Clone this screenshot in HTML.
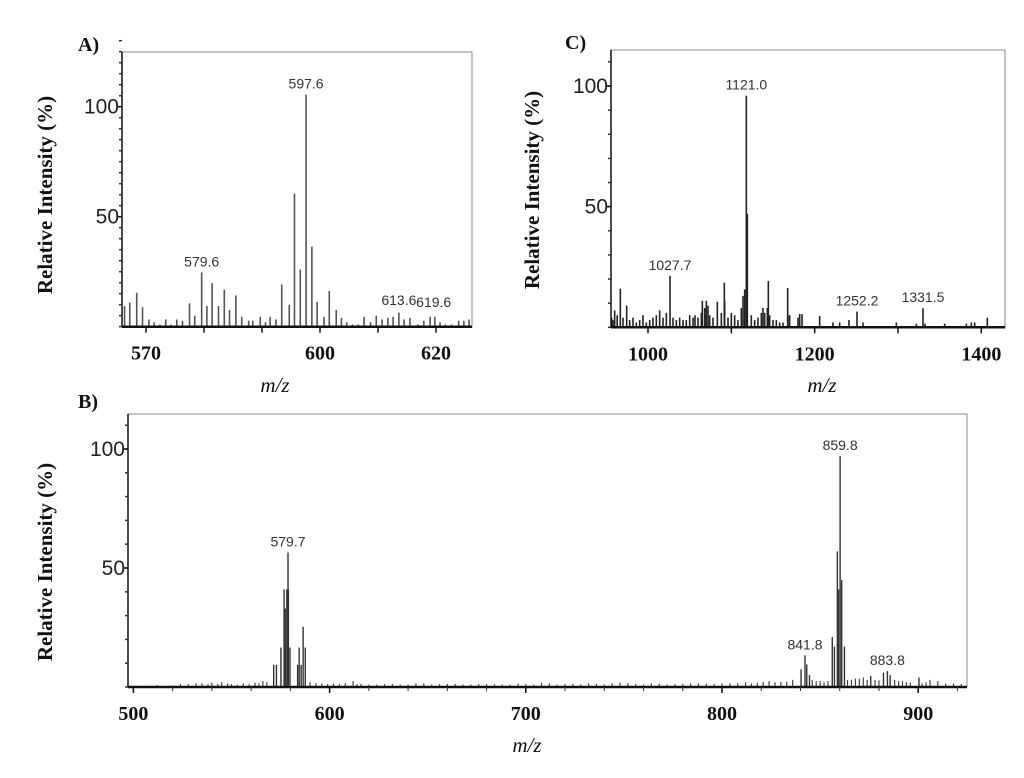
<!DOCTYPE html>
<html><head><meta charset="utf-8"><style>
body{margin:0;background:#fff;}
svg{display:block;}
.tk{font-family:"Liberation Sans",sans-serif;font-size:21px;fill:#222;}
.xt{font-family:"Liberation Serif",serif;font-weight:bold;font-size:20px;fill:#111;}
.yt{font-family:"Liberation Serif",serif;font-weight:bold;font-size:21px;fill:#111;}
.pl{font-family:"Liberation Serif",serif;font-weight:bold;font-size:20px;fill:#111;}
.mz{font-family:"Liberation Serif",serif;font-style:italic;font-size:21px;fill:#111;}
.pk{font-family:"Liberation Sans",sans-serif;font-size:14px;fill:#333;}
</style></head><body>
<svg id="fig" width="1024" height="778" viewBox="0 0 1024 778">
<text class="pl" x="78" y="51">A)</text>
<text class="pl" x="565" y="49">C)</text>
<text class="pl" x="78" y="408">B)</text>
<text class="yt" transform="translate(52,195) rotate(-90)" text-anchor="middle">Relative Intensity (%)</text>
<text class="yt" transform="translate(539,190) rotate(-90)" text-anchor="middle">Relative Intensity (%)</text>
<text class="yt" transform="translate(52,562) rotate(-90)" text-anchor="middle">Relative Intensity (%)</text>
<text class="mz" x="275" y="392" text-anchor="middle">m/z</text>
<text class="mz" x="822" y="392" text-anchor="middle">m/z</text>
<text class="mz" x="527" y="752" text-anchor="middle">m/z</text>
</svg>
<script>
// Panel A data
const aMz=[566.3,567.2,568.4,569.4,570.5,571.4,572.4,573.4,574.3,575.3,576.3,577.5,578.4,579.6,580.5,581.4,582.5,583.5,584.4,585.5,586.5,587.7,588.4,589.7,590.6,591.4,592.4,593.4,594.7,595.6,596.6,597.6,598.6,599.5,600.7,601.6,602.8,603.7,604.6,605.6,606.6,607.6,608.7,609.7,610.7,611.7,612.6,613.6,614.5,615.5,616.9,617.9,619.0,619.8,620.7,621.6,622.7,623.9,624.8,625.7];
const aInt=[9.4,11,15.5,8.8,3.3,2,1,3.3,1,3.3,2.7,10.6,5,24.7,9.4,19.8,9.4,16.8,7.6,14.2,4.5,2.7,2.7,4.5,2,4.5,3.3,19.2,10,60.5,26,105.5,36.4,11.2,4.5,16.2,7.6,4,2,1,1,4.5,2,5,3.3,4,4.5,6.4,3.3,4,1,2.7,4.5,4.5,2,1,1,2.7,2.7,3.3];
const aLabels=[[579.6,"579.6"],[597.6,"597.6"]];
const aTicks=[570,580,590,600,610,620];
const aTickLabels=[570,600,620];
// Panel C data
const cMz=[1118,1119.2,1116,1114,1026.4,966.8,974.4,960,956.4,1091.6,1092,1083.2,1065.2,1056.4,1144.4,1143.2,1167.6,1168,1182,1184.8,1206,1222,1230,1241.2,1250.8,1258,1298,1322,1330,1332.4,1356,1382,1388,1392,1407.2,958,963,970,978,982,986,990,994,998,1002,1006,1010,1014,1018,1022,1030,1034,1038,1042,1046,1050,1054,1060,1064,1068,1070,1072,1074,1078,1088,1096,1100,1104,1108,1112,1124,1128,1132,1136,1138,1140,1146,1150,1154,1158,1162,1170,1180];
const cInt=[96,47,15.7,13,21.3,16,9,7,4,18.5,11,10.6,11,5,19.2,8,16.3,5,5.5,5.5,4.7,2,2,3,6.5,2,2,1.5,7.9,1.5,1.5,1.5,2,2,4,3,5,4,3,4,2,3,5,2,3,4,5,7,4,6,4,3,4,3,3,5,4,4,6,8,11,9,5,4,6,4,6,5,3,8,5,3,4,6,8,6,5,3,3,2,2,5,4];
const cLabels=[[1118,"1121.0"],[1026.4,"1027.7"],[1250.8,"1252.2"],[1330,"1331.5"]];
const cTicks=[1000,1100,1200,1300,1400];
const cTickLabels=[1000,1200,1400];
// Panel B data
const bMz=[578.8,578.2,579.0,576.8,577.4,575.2,579.8,571.5,572.9,583.7,584.5,586.5,587.6,585.5,860.2,858.8,859.4,861.0,862.4,856.2,857.3,842.3,843.2,840.3,844.6,884.3,882.3,885.7,875.8,900.4];
const bInt=[56.5,41,41,41,33,16.6,16.6,9.3,9.3,9.3,16.6,25.3,16.6,9.3,97,57,41,45,17,21,17,13.3,9.5,7.4,5,6.7,6,5,4.6,4];
const bNoiseMz=[503,508,512,516,520,524,528,532,535,538,540,543,545,548,550,553,556,559,562,564,566,568,590,593,596,599,602,605,608,612,614,616,620,624,628,632,636,640,644,648,652,656,660,664,668,672,676,680,684,688,692,696,700,704,708,712,716,720,724,728,732,736,740,744,748,752,756,760,764,768,772,776,780,784,788,792,796,800,804,808,812,815,818,821,824,827,830,833,836,846,848,850,852,854,864,866,868,870,872,874,878,880,888,890,892,894,896,902,904,906,910,914,918,922];
const bNoiseInt=[0.5,0.6,0.8,0.4,0.6,1.2,1.2,1.5,1.5,1.2,1.8,1.3,2,1.5,1.2,1,1.5,1.2,1.8,1.5,2.5,2,2,1.6,1.5,1.2,1.4,1.2,1.6,2.5,1.2,1.3,1,1,1.2,1.2,1,1,1.5,1.5,1,1.2,1.3,1.3,1,1,1.2,1.2,1.1,1,1,1.4,1.2,1,1.8,1.5,1,1.2,1.3,1.1,1.5,1.3,1,1.5,1.8,1.6,1.2,1,1.5,1.3,1,1.2,1.3,1.5,1.5,1.4,1.2,1.5,1.5,1.6,2,1.5,1.8,2,2.5,2,2.2,2.3,3,3,2.5,2.5,2,2.5,3,3,3.5,3.5,4,3,3,2.8,3,2.5,2.5,2,1.8,1.5,2,3,2.5,1.5,1.5,1.2,1.2];
const bLabels=[[578.8,"579.7"],[860.2,"859.8"],[842.3,"841.8"],[884.3,"883.8"]];
const bTicks=[500,600,700,800,900];
const bTickLabels=[500,600,700,800,900];

const NS="http://www.w3.org/2000/svg";
const svg=document.getElementById('fig');
function mk(tag,attrs){const e=document.createElementNS(NS,tag);for(const k in attrs)e.setAttribute(k,attrs[k]);svg.appendChild(e);return e;}

function panel(p){
  const sx=m=>p.x0+(m-p.m0)*p.kx;
  const sy=v=>p.yz-v*p.ky;
  const box=mk('rect',{x:p.L,y:p.T,width:p.R-p.L,height:p.yz-p.T,fill:'none',stroke:'#888','stroke-width':1});
  
  
  const draw=(mz,it,cls,col,w)=>{for(let i=0;i<mz.length;i++){const x=sx(mz[i]);if(x<p.L||x>p.R)continue;
    const l=mk('line',{x1:x,x2:x,y1:p.yz,y2:sy(it[i]),stroke:col,'stroke-width':w});
    
    }};
  if(p.noise)draw(p.noise[0],p.noise[1],'noise-peak','#444',1.2);
  draw(p.mz,p.int,'peak',p.col,p.w);
  const xa=mk('line',{x1:p.L,x2:p.R,y1:p.yz,y2:p.yz,stroke:'#111','stroke-width':2.5});
  
  
  const ya=mk('line',{x1:p.L,x2:p.L,y1:p.T,y2:p.yz,stroke:'#111','stroke-width':1.5});
  
  
  for(let v=0;v<=p.ymax;v+=p.ystep){const y=sy(v);mk('line',{x1:p.L-3,x2:p.L,y1:y,y2:y,stroke:'#333','stroke-width':1.5});}
  [50,100].forEach(v=>{const y=sy(v);mk('line',{x1:p.L-5,x2:p.L,y1:y,y2:y,stroke:'#111','stroke-width':1.5});
    const t=mk('text',{x:p.L-3,y:y+7,'text-anchor':'end',class:'tk'});t.textContent=v;
    
    });
  for(let m=p.minorStart;m<=p.mmax;m+=p.minor){const x=sx(m);if(x<p.L||x>p.R)continue;mk('line',{x1:x,x2:x,y1:p.yz,y2:p.yz+4,stroke:'#333','stroke-width':1});}
  p.ticks.forEach(m=>{const x=sx(m);mk('line',{x1:x,x2:x,y1:p.yz,y2:p.yz+6,stroke:'#111','stroke-width':1.5});});
  p.tickLabels.forEach(m=>{const t=mk('text',{x:sx(m),y:p.yz+33,'text-anchor':'middle',class:'xt'});t.textContent=m;
    
    });
  p.labels.forEach(([m,s])=>{const idx=p.mz.indexOf(m);const v=idx>=0?p.int[idx]:0;
    const t=mk('text',{x:sx(m),y:sy(v)-6,'text-anchor':'middle',class:'pk'});t.textContent=s;
    
    });
}
panel({id:'panel-a',L:122,R:472,T:52,yz:326.7,x0:146,m0:570,kx:5.8,ky:2.2,mz:aMz,int:aInt,col:'#555',w:1.6,
  ymax:130,ystep:5,ticks:aTicks,tickLabels:aTickLabels,minor:10,minorStart:570,mmax:630,labels:aLabels});
panel({id:'panel-c',L:611,R:1005,T:50,yz:327.3,x0:648,m0:1000,kx:0.8333,ky:2.413,mz:cMz,int:cInt,col:'#222',w:1.6,
  ymax:115,ystep:10,ticks:cTicks,tickLabels:cTickLabels,minor:100,minorStart:1000,mmax:1430,labels:cLabels});
panel({id:'panel-b',L:128,R:967,T:414,yz:687,x0:133.4,m0:500,kx:1.962,ky:2.38,mz:bMz,int:bInt,col:'#333',w:1.4,noise:[bNoiseMz,bNoiseInt],
  ymax:110,ystep:10,ticks:bTicks,tickLabels:bTickLabels,minor:20,minorStart:500,mmax:930,labels:bLabels});
[[613.6,"613.6",305],[619.6,"619.6",307]].forEach(([m,s,y])=>{const t=mk('text',{x:146+(m-570)*5.8,y:y,'text-anchor':'middle',class:'pk'});t.textContent=s;
  
  });
</script>
</body></html>
